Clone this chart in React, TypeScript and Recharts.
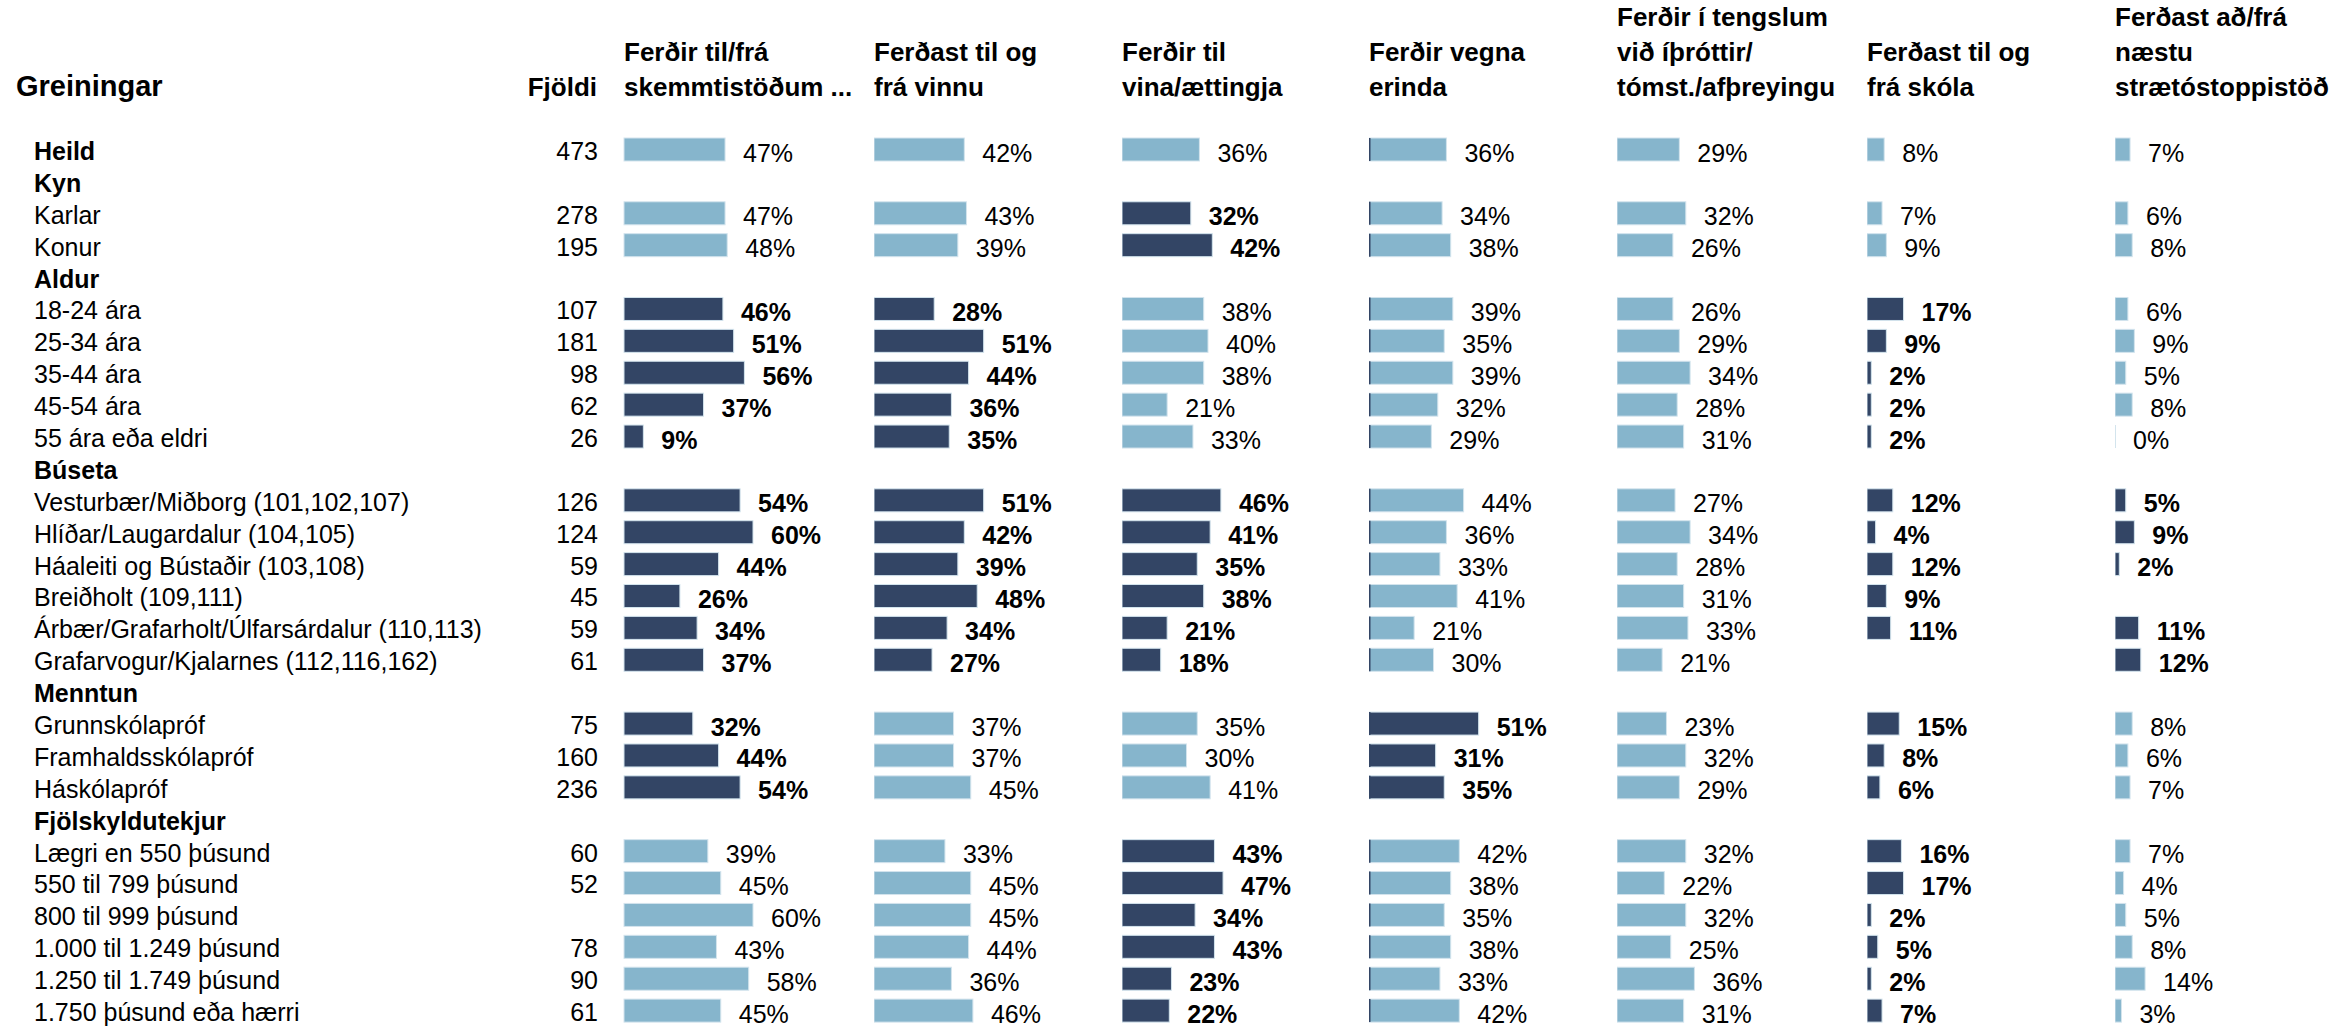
import React from "react";
import { BarChart, Bar, XAxis, YAxis } from "recharts";

// ---------- data ----------
const categories = [
  "Heild",
  "Kyn",
  "Karlar",
  "Konur",
  "Aldur",
  "18-24 ára",
  "25-34 ára",
  "35-44 ára",
  "45-54 ára",
  "55 ára eða eldri",
  "Búseta",
  "Vesturbær/Miðborg (101,102,107)",
  "Hlíðar/Laugardalur (104,105)",
  "Háaleiti og Bústaðir (103,108)",
  "Breiðholt (109,111)",
  "Árbær/Grafarholt/Úlfarsárdalur (110,113)",
  "Grafarvogur/Kjalarnes (112,116,162)",
  "Menntun",
  "Grunnskólapróf",
  "Framhaldsskólapróf",
  "Háskólapróf",
  "Fjölskyldutekjur",
  "Lægri en 550 þúsund",
  "550 til 799 þúsund",
  "800 til 999 þúsund",
  "1.000 til 1.249 þúsund",
  "1.250 til 1.749 þúsund",
  "1.750 þúsund eða hærri",
];

const groupHeaders = ["Heild", "Kyn", "Aldur", "Búseta", "Menntun", "Fjölskyldutekjur"];

const counts = [473, null, 278, 195, null, 107, 181, 98, 62, 26, null, 126, 124, 59, 45, 59, 61, null, 75, 160, 236, null, 60, 52, null, 78, 90, 61];

const tableTitle = "Greiningar";
const countTitle = "Fjöldi";

const columnTitles = [
  ["Ferðir til/frá", "skemmtistöðum ..."],
  ["Ferðast til og", "frá vinnu"],
  ["Ferðir til", "vina/ættingja"],
  ["Ferðir vegna", "erinda"],
  ["Ferðir í tengslum", "við íþróttir/", "tómst./afþreyingu"],
  ["Ferðast til og", "frá skóla"],
  ["Ferðast að/frá", "næstu", "strætóstoppistöð"],
];

const skemmtun = [47, null, 47, 48, null, 46, 51, 56, 37, 9, null, 54, 60, 44, 26, 34, 37, null, 32, 44, 54, null, 39, 45, 60, 43, 58, 45];
const skemmtunSig = [0, 0, 0, 0, 0, 1, 1, 1, 1, 1, 0, 1, 1, 1, 1, 1, 1, 0, 1, 1, 1, 0, 0, 0, 0, 0, 0, 0];

const vinna = [42, null, 43, 39, null, 28, 51, 44, 36, 35, null, 51, 42, 39, 48, 34, 27, null, 37, 37, 45, null, 33, 45, 45, 44, 36, 46];
const vinnaSig = [0, 0, 0, 0, 0, 1, 1, 1, 1, 1, 0, 1, 1, 1, 1, 1, 1, 0, 0, 0, 0, 0, 0, 0, 0, 0, 0, 0];

const vinir = [36, null, 32, 42, null, 38, 40, 38, 21, 33, null, 46, 41, 35, 38, 21, 18, null, 35, 30, 41, null, 43, 47, 34, 43, 23, 22];
const vinirSig = [0, 0, 1, 1, 0, 0, 0, 0, 0, 0, 0, 1, 1, 1, 1, 1, 1, 0, 0, 0, 0, 0, 1, 1, 1, 1, 1, 1];

const erindi = [36, null, 34, 38, null, 39, 35, 39, 32, 29, null, 44, 36, 33, 41, 21, 30, null, 51, 31, 35, null, 42, 38, 35, 38, 33, 42];
const erindiSig = [0, 0, 0, 0, 0, 0, 0, 0, 0, 0, 0, 0, 0, 0, 0, 0, 0, 0, 1, 1, 1, 0, 0, 0, 0, 0, 0, 0];

const tomstundir = [29, null, 32, 26, null, 26, 29, 34, 28, 31, null, 27, 34, 28, 31, 33, 21, null, 23, 32, 29, null, 32, 22, 32, 25, 36, 31];
const tomstundirSig = [0, 0, 0, 0, 0, 0, 0, 0, 0, 0, 0, 0, 0, 0, 0, 0, 0, 0, 0, 0, 0, 0, 0, 0, 0, 0, 0, 0];

const skoli = [8, null, 7, 9, null, 17, 9, 2, 2, 2, null, 12, 4, 12, 9, 11, null, null, 15, 8, 6, null, 16, 17, 2, 5, 2, 7];
const skoliSig = [0, 0, 0, 0, 0, 1, 1, 1, 1, 1, 0, 1, 1, 1, 1, 1, 0, 0, 1, 1, 1, 0, 1, 1, 1, 1, 1, 1];

const straeto = [7, null, 6, 8, null, 6, 9, 5, 8, 0, null, 5, 9, 2, null, 11, 12, null, 8, 6, 7, null, 7, 4, 5, 8, 14, 3];
const straetoSig = [0, 0, 0, 0, 0, 0, 0, 0, 0, 0, 0, 1, 1, 1, 0, 1, 1, 0, 0, 0, 0, 0, 0, 0, 0, 0, 0, 0];

const seriesValues = [skemmtun, vinna, vinir, erindi, tomstundir, skoli, straeto];
const seriesSig = [skemmtunSig, vinnaSig, vinirSig, erindiSig, tomstundirSig, skoliSig, straetoSig];

// ---------- layout / style ----------
const FONT = "'Liberation Sans', Arial, Helvetica, sans-serif";
const LIGHT = "#86B5CC";
const DARK = "#334565";
const EDGE = "#d3e4ed";
const W = 2348;
const H = 1027;
const TOP = 134;
const PLOT_W = 215; // width of 0..100 %
const COL_X = [624, 874, 1122, 1369, 1617, 1867, 2115];
const LABEL_X = 34;
const COUNT_RIGHT = 598;

const tableData = categories.map((label, i) => {
  const row: any = { label, n: counts[i] };
  seriesValues.forEach((vals, k) => {
    row["c" + k] = vals[i];
    row["s" + k] = seriesSig[k][i];
  });
  return row;
});

const RowTick = (props: any) => {
  const { y, payload } = props;
  const name = payload.value as string;
  const i = categories.indexOf(name);
  const bold = groupHeaders.includes(name);
  return (
    <g>
      <text x={LABEL_X} y={y + 10} fontSize={25} fontFamily={FONT} fontWeight={bold ? 700 : 400} fill="#000">
        {name}
      </text>
      {counts[i] != null && (
        <text x={COUNT_RIGHT} y={y + 10} fontSize={25} fontFamily={FONT} textAnchor="end" fill="#000">
          {counts[i]}
        </text>
      )}
    </g>
  );
};

const makeShape = (k: number) => (props: any) => {
  const { x, y, width, height, payload } = props;
  if (!payload || x == null || isNaN(x) || y == null || isNaN(y)) return null;
  const value = payload["c" + k];
  if (value == null) return null;
  const sig = !!payload["s" + k];
  const w = Math.max(width || 0, 0);
  return (
    <g>
      {w > 0 && (
        <rect x={x} y={y} width={w} height={height} fill={sig ? DARK : LIGHT} stroke={EDGE} strokeWidth={1} />
      )}
      {k === 3 && w > 0 && (
        <line x1={x + 0.75} x2={x + 0.75} y1={y} y2={y + height} stroke={DARK} strokeWidth={1.5} />
      )}
      {w === 0 && <line x1={x + 0.5} x2={x + 0.5} y1={y} y2={y + height} stroke={EDGE} strokeWidth={1} />}
      <text x={x + w + 18} y={y + height / 2 + 12} fontSize={25} fontFamily={FONT} fontWeight={sig ? 700 : 400} fill="#000">
        {value}%
      </text>
    </g>
  );
};

const Column = ({ k }: { k: number }) => {
  const first = k === 0;
  const width = (first ? COL_X[0] : 0) + PLOT_W + 25;
  return (
    <div style={{ position: "absolute", left: first ? 0 : COL_X[k], top: 0 }}>
      <BarChart
        width={width}
        height={H}
        data={tableData}
        layout="vertical"
        margin={{ top: TOP, right: 25, bottom: 0, left: 0 }}
        barSize={23}
      >
        <XAxis type="number" domain={[0, 100]} hide />
        <YAxis
          type="category"
          dataKey="label"
          hide={!first}
          width={first ? COL_X[0] : 0}
          axisLine={false}
          tickLine={false}
          interval={0}
          tick={first ? <RowTick /> : false}
        />
        <Bar dataKey={"c" + k} isAnimationActive={false} fill={LIGHT} shape={makeShape(k)} />
      </BarChart>
    </div>
  );
};

const Header = () => (
  <svg width={W} height={110} style={{ position: "absolute", left: 0, top: 0 }}>
    <text x={16} y={96} fontSize={29} fontWeight={700} fontFamily={FONT} fill="#000">
      {tableTitle}
    </text>
    <text x={597} y={96} fontSize={26} fontWeight={700} fontFamily={FONT} textAnchor="end" fill="#000">
      {countTitle}
    </text>
    {columnTitles.map((lines, k) =>
      lines.map((line, j) => (
        <text
          key={k + "-" + j}
          x={COL_X[k]}
          y={96 - (lines.length - 1 - j) * 35}
          fontSize={26}
          fontWeight={700}
          fontFamily={FONT}
          fill="#000"
        >
          {line}
        </text>
      ))
    )}
  </svg>
);

export default function App() {
  return (
    <div
      style={{
        position: "absolute",
        left: 0,
        top: 0,
        width: W,
        height: H,
        background: "#fff",
        overflow: "hidden",
        fontFamily: FONT,
      }}
    >
      <Header />
      {seriesValues.map((_, k) => (
        <Column key={k} k={k} />
      ))}
    </div>
  );
}
